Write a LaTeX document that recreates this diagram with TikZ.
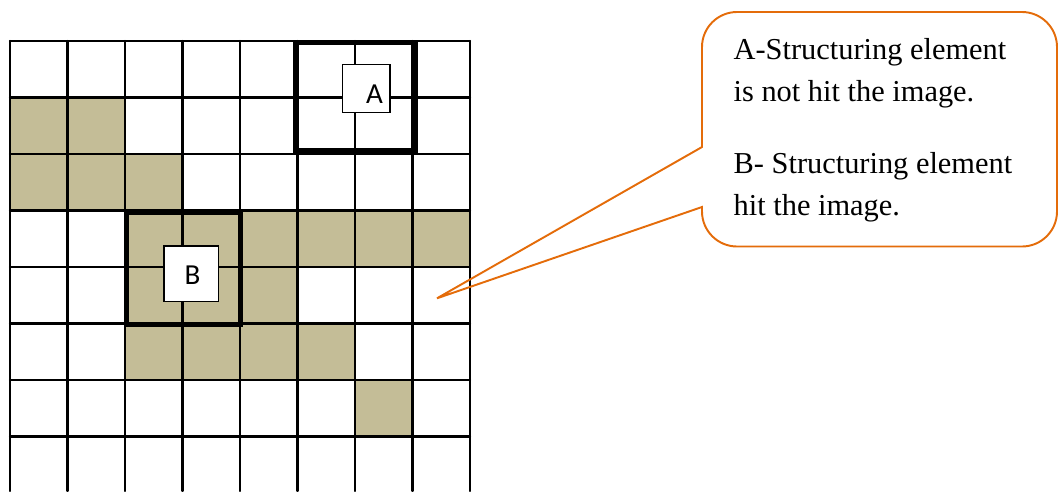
\documentclass[tikz,border=0pt]{standalone}
\usepackage{fontspec}
\setmainfont{Liberation Serif}
\newfontfamily\calibrifont{Carlito}
\definecolor{hitfill}{HTML}{C4BD97}
\definecolor{calloutorange}{HTML}{E46C0A}

\begin{document}
\begin{tikzpicture}[x=0.02cm, y=-0.02cm, line cap=round]
\tikzset{gridline/.style={line width=1.2pt}, hit/.style={fill=hitfill},
  sebox/.style={line width=3.3pt, line join=miter},
  selem/.style={draw, fill=white, line width=0.9pt, inner sep=0pt},
  selabel/.style={font=\calibrifont\fontsize{16.5}{19}\selectfont, inner sep=0pt},
  callout/.style={draw=calloutorange, line width=1.1pt, line join=miter},
  note/.style={font=\fontsize{17.3}{20}\selectfont, anchor=base west, inner sep=0pt}}

\useasboundingbox (0,0) rectangle (1058,491);

% image pixels (col/row)
\foreach \c/\r in {0/1,1/1,0/2,1/2,2/2,2/3,3/3,4/3,5/3,6/3,7/3,2/4,3/4,4/4,2/5,3/5,4/5,5/5,6/6}
  \fill[hit] ({10+57.5*\c},{41+56.5*\r}) rectangle ++(57.5,56.5);

% grid
\foreach \c in {0,...,8}
  \draw[gridline] ({10+57.5*\c},41) -- ({10+57.5*\c},491);
\foreach \r in {0,...,7}
  \draw[gridline] (10,{41+56.5*\r}) -- (470,{41+56.5*\r});

% structuring elements A and B
\draw[sebox] (296,42.5) rectangle (415,151);
\draw[sebox] (126.5,212) rectangle (240.5,324.5);
\node[selem, minimum width=0.946cm, minimum height=0.968cm] (sqA) at (366.3,88.5) {};
\node[selem, minimum width=1.086cm, minimum height=1.12cm] (sqB) at (191.2,273.7) {};
\node[selabel] (labA) at (374.5,93.8) {A};
\node[selabel] (labB) at (192.5,274.7) {B};

% callout
\coordinate (tip) at (437,298.3);
\draw[callout] (702,147) -- (tip) -- (702,207) -- (702,211.5)
  .. controls (702,230.8) and (717.7,246.5) .. (737,246.5) -- (1022,246.5)
  .. controls (1041.3,246.5) and (1057,230.8) .. (1057,211.5) -- (1057,47)
  .. controls (1057,27.7) and (1041.3,12) .. (1022,12) -- (737,12)
  .. controls (717.7,12) and (702,27.7) .. (702,47) -- cycle;

\node[note] (noteA1) at (733.3,59.3) {A-Structuring element};
\node[note] (noteA2) at (733.3,101.7) {is not hit the image.};
\node[note] (noteB1) at (733.3,173.3) {B- Structuring element};
\node[note] (noteB2) at (733.3,215) {hit the image.};
\end{tikzpicture}
\end{document}
